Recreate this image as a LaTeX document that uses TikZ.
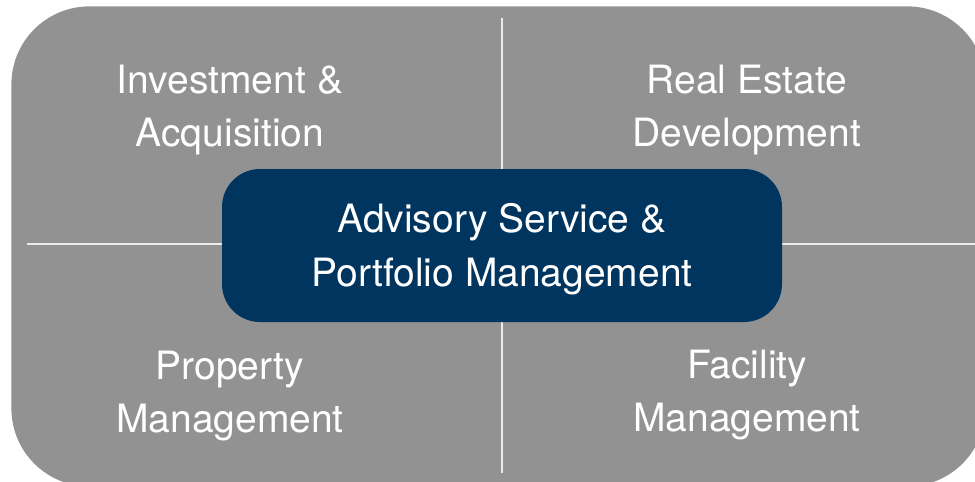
\documentclass[tikz,border=0pt]{standalone}
\usepackage{fontspec}
\setmainfont{TeX Gyre Heros}
\usetikzlibrary{positioning}

\definecolor{panelgray}{RGB}{146,146,146}
\definecolor{corenavy}{RGB}{0,53,95}
\definecolor{divline}{RGB}{236,236,236}

\begin{document}
\begin{tikzpicture}[x=0.5pt, y=-0.5pt,
    area/.style={text=white, align=center, anchor=base, inner sep=0pt,
                 font=\fontsize{19.5}{26.5}\selectfont},
    divider/.style={draw=divline, line width=1pt}]

  \useasboundingbox (0,0) rectangle (975,482);

  %--- Grey background panel
  \node[fill=panelgray, rounded corners=39pt, minimum width=487pt,
        minimum height=240pt, inner sep=0pt, anchor=north west] (panel) at (11,6) {};

  %--- Dividers between the four areas
  \coordinate (vtop) at (502,18);
  \coordinate (vbot) at (502,473);
  \coordinate (hleft) at (27,244);
  \coordinate (hright) at (975,244);
  \draw[divider] (vtop) -- (vbot);
  \draw[divider] (hleft) -- (hright);

  %--- Four service areas (base = last line)
  \node[area] (invest) at (230,146) {Investment \&\\Acquisition};
  \node[area] (develop) at (747,146) {Real Estate\\Development};
  \node[area] (property) at (230,432) {Property\\Management};
  \node[area] (facility) at (747,431) {Facility\\Management};

  %--- Central box
  \node[fill=corenavy, rounded corners=19pt, minimum width=280pt,
        minimum height=76.5pt, text=white, align=center, inner sep=0pt,
        text height=45pt, font=\fontsize{19.5}{27}\selectfont] (core) at (502,245.5)
        {Advisory Service \&\\Portfolio Management};

\end{tikzpicture}
\end{document}
